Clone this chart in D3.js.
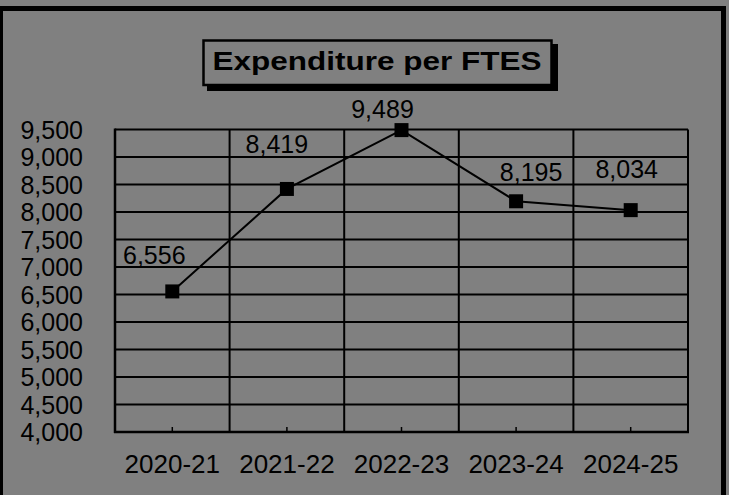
<!DOCTYPE html>
<html>
<head>
<meta charset="utf-8">
<script src="https://cdn.jsdelivr.net/npm/d3@7"></script>
<style>
  html, body { margin: 0; padding: 0; background: #808080; }
  svg { display: block; font-family: "Liberation Sans", Arial, sans-serif; }
</style>
</head>
<body>
<svg id="chart" width="729" height="495"></svg>
<script>
const years = ["2020-21", "2021-22", "2022-23", "2023-24", "2024-25"];
const expenditure = [6556, 8419, 9489, 8195, 8034];
const yTicks = [4000, 4500, 5000, 5500, 6000, 6500, 7000, 7500, 8000, 8500, 9000, 9500];
const chartTitle = "Expenditure per FTES";

// hand-placed label offsets (dx, dy) from each point, as in the source
const labelOffsets = [[-18, -27], [-10, -36], [-19, -12], [15, -20], [-4, -32]];

const svg = d3.select("#chart");
const bg = "#808080";

// outer frame
svg.append("rect")
    .attr("x", 1.5).attr("y", 7.5)
    .attr("width", 721).attr("height", 520)
    .attr("fill", bg)
    .attr("stroke", "#000").attr("stroke-width", 3);
svg.append("rect")
    .attr("x", 0).attr("y", 6)
    .attr("width", 726).attr("height", 5)
    .attr("fill", "#000");
svg.append("rect")
    .attr("x", 721).attr("y", 6)
    .attr("width", 5).attr("height", 495)
    .attr("fill", "#000");

const plot = {left: 115, right: 688, top: 129.5, bottom: 432};

const x = d3.scaleBand()
    .domain(years)
    .range([plot.left, plot.right]);

const y = d3.scaleLinear()
    .domain([4000, 9500])
    .range([plot.bottom, plot.top]);

// horizontal gridlines
svg.append("g")
    .selectAll("line")
    .data(yTicks)
    .join("line")
    .attr("x1", plot.left).attr("x2", plot.right)
    .attr("y1", d => y(d)).attr("y2", d => y(d))
    .attr("stroke", "#000").attr("stroke-width", 2);

// vertical gridlines at category boundaries
svg.append("g")
    .selectAll("line")
    .data(years.slice(1).concat(["end"]))
    .join("line")
    .attr("x1", (d, i) => x(years[0]) + (i + 1) * x.bandwidth())
    .attr("x2", (d, i) => x(years[0]) + (i + 1) * x.bandwidth())
    .attr("y1", plot.top).attr("y2", plot.bottom)
    .attr("stroke", "#000").attr("stroke-width", 2);

// axes lines
svg.append("line")
    .attr("x1", plot.left).attr("x2", plot.left)
    .attr("y1", plot.top - 1).attr("y2", plot.bottom + 1)
    .attr("stroke", "#000").attr("stroke-width", 2.5);
svg.append("line")
    .attr("x1", plot.left - 1).attr("x2", plot.right + 1)
    .attr("y1", plot.bottom).attr("y2", plot.bottom)
    .attr("stroke", "#000").attr("stroke-width", 2.5);

// category ticks, pointing up into the plot
svg.append("g")
    .selectAll("line")
    .data(years)
    .join("line")
    .attr("x1", d => x(d) + x.bandwidth() / 2)
    .attr("x2", d => x(d) + x.bandwidth() / 2)
    .attr("y1", plot.bottom).attr("y2", plot.bottom - 5)
    .attr("stroke", "#000").attr("stroke-width", 1.5);

// y labels
svg.append("g")
    .selectAll("text")
    .data(yTicks)
    .join("text")
    .attr("x", 83)
    .attr("y", d => y(d))
    .attr("dy", "0.36em")
    .attr("text-anchor", "end")
    .attr("font-size", 25)
    .text(d => d3.format(",")(d));

// x labels
svg.append("g")
    .selectAll("text")
    .data(years)
    .join("text")
    .attr("x", d => x(d) + x.bandwidth() / 2)
    .attr("y", 473)
    .attr("text-anchor", "middle")
    .attr("font-size", 26)
    .text(d => d);

// line + markers
const pts = years.map((d, i) => ({year: d, value: expenditure[i]}));
const line = d3.line()
    .x(d => x(d.year) + x.bandwidth() / 2)
    .y(d => y(d.value));

svg.append("path")
    .datum(pts)
    .attr("d", line)
    .attr("fill", "none")
    .attr("stroke", "#000")
    .attr("stroke-width", 2);

const ms = 14;
svg.append("g")
    .selectAll("rect")
    .data(pts)
    .join("rect")
    .attr("x", d => x(d.year) + x.bandwidth() / 2 - ms / 2)
    .attr("y", d => y(d.value) - ms / 2)
    .attr("width", ms).attr("height", ms)
    .attr("fill", "#000");

// data labels
svg.append("g")
    .selectAll("text")
    .data(pts)
    .join("text")
    .attr("x", (d, i) => x(d.year) + x.bandwidth() / 2 + labelOffsets[i][0])
    .attr("y", (d, i) => y(d.value) + labelOffsets[i][1])
    .attr("text-anchor", "middle")
    .attr("font-size", 25)
    .text(d => d3.format(",")(d.value));

// title box with shadow
svg.append("rect")
    .attr("x", 207).attr("y", 44)
    .attr("width", 351).attr("height", 47)
    .attr("fill", "#000");
svg.append("rect")
    .attr("x", 203.5).attr("y", 40.5)
    .attr("width", 348).attr("height", 44.5)
    .attr("fill", bg)
    .attr("stroke", "#000").attr("stroke-width", 2.5);
svg.append("text")
    .attr("x", 377).attr("y", 69.5)
    .attr("text-anchor", "middle")
    .attr("font-size", 26)
    .attr("font-weight", "bold")
    .attr("textLength", 329)
    .attr("lengthAdjust", "spacingAndGlyphs")
    .text(chartTitle);
</script>
</body>
</html>
